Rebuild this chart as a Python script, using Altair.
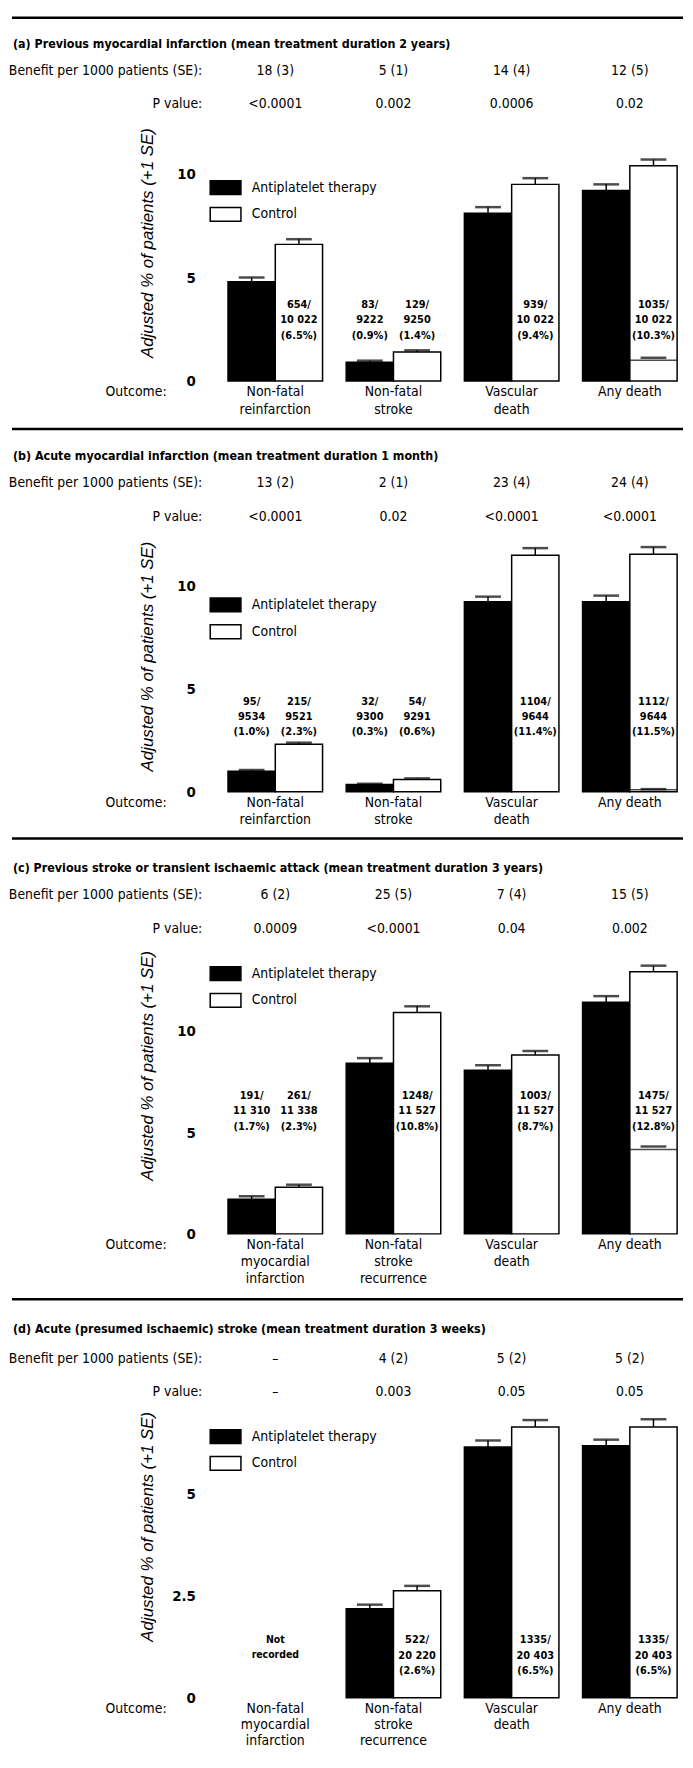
import altair as alt
import pandas as pd

FONT = "Liberation Sans Narrow, DejaVu Sans Condensed, Arial Narrow, sans-serif"
IFONT = "Liberation Sans, Arial, sans-serif"
SERIES = ["Antiplatelet therapy", "Control"]

# ---------------- data ----------------
titles = [
    "(a) Previous myocardial infarction (mean treatment duration 2 years)",
    "(b) Acute myocardial infarction (mean treatment duration 1 month)",
    "(c) Previous stroke or transient ischaemic attack (mean treatment duration 3 years)",
    "(d) Acute (presumed ischaemic) stroke (mean treatment duration 3 weeks)",
]
outcomes_mi = ["Non-fatal\nreinfarction", "Non-fatal\nstroke", "Vascular\ndeath", "Any death"]
outcomes_st = ["Non-fatal\nmyocardial\ninfarction", "Non-fatal\nstroke\nrecurrence", "Vascular\ndeath", "Any death"]

benefit_a = ["18 (3)", "5 (1)", "14 (4)", "12 (5)"]
pvalue_a = ["<0.0001", "0.002", "0.0006", "0.02"]
anti_a = [4.8, 0.9, 8.1, 9.2]
anti_se_a = [0.2, 0.08, 0.3, 0.3]
ctrl_a = [6.6, 1.4, 9.5, 10.4]
ctrl_se_a = [0.25, 0.08, 0.3, 0.3]
nonvasc_a = 1.0
nonvasc_se_a = 0.12
counts_a = [
    ("Non-fatal\nreinfarction", "Control", "654/\n10 022\n(6.5%)"),
    ("Non-fatal\nstroke", "Antiplatelet therapy", "83/\n9222\n(0.9%)"),
    ("Non-fatal\nstroke", "Control", "129/\n9250\n(1.4%)"),
    ("Vascular\ndeath", "Control", "939/\n10 022\n(9.4%)"),
    ("Any death", "Control", "1035/\n10 022\n(10.3%)"),
]

benefit_b = ["13 (2)", "2 (1)", "23 (4)", "24 (4)"]
pvalue_b = ["<0.0001", "0.02", "<0.0001", "<0.0001"]
anti_b = [1.0, 0.35, 9.2, 9.2]
anti_se_b = [0.06, 0.04, 0.25, 0.3]
ctrl_b = [2.3, 0.6, 11.45, 11.5]
ctrl_se_b = [0.08, 0.05, 0.35, 0.35]
nonvasc_b = 0.1
nonvasc_se_b = 0.03
counts_b = [
    ("Non-fatal\nreinfarction", "Antiplatelet therapy", "95/\n9534\n(1.0%)"),
    ("Non-fatal\nreinfarction", "Control", "215/\n9521\n(2.3%)"),
    ("Non-fatal\nstroke", "Antiplatelet therapy", "32/\n9300\n(0.3%)"),
    ("Non-fatal\nstroke", "Control", "54/\n9291\n(0.6%)"),
    ("Vascular\ndeath", "Control", "1104/\n9644\n(11.4%)"),
    ("Any death", "Control", "1112/\n9644\n(11.5%)"),
]

benefit_c = ["6 (2)", "25 (5)", "7 (4)", "15 (5)"]
pvalue_c = ["0.0009", "<0.0001", "0.04", "0.002"]
anti_c = [1.7, 8.4, 8.05, 11.4]
anti_se_c = [0.15, 0.25, 0.25, 0.3]
ctrl_c = [2.3, 10.9, 8.8, 12.9]
ctrl_se_c = [0.12, 0.3, 0.2, 0.3]
nonvasc_c = 4.15
nonvasc_se_c = 0.15
counts_c = [
    ("Non-fatal\nmyocardial\ninfarction", "Antiplatelet therapy", "191/\n11 310\n(1.7%)"),
    ("Non-fatal\nmyocardial\ninfarction", "Control", "261/\n11 338\n(2.3%)"),
    ("Non-fatal\nstroke\nrecurrence", "Control", "1248/\n11 527\n(10.8%)"),
    ("Vascular\ndeath", "Control", "1003/\n11 527\n(8.7%)"),
    ("Any death", "Control", "1475/\n11 527\n(12.8%)"),
]

benefit_d = ["\u2013", "4 (2)", "5 (2)", "5 (2)"]
pvalue_d = ["\u2013", "0.003", "0.05", "0.05"]
anti_d = [None, 2.18, 6.14, 6.17]
anti_se_d = [None, 0.1, 0.16, 0.15]
ctrl_d = [None, 2.62, 6.63, 6.63]
ctrl_se_d = [None, 0.12, 0.17, 0.19]
nonvasc_d = None
nonvasc_se_d = None
counts_d = [
    ("Non-fatal\nstroke\nrecurrence", "Control", "522/\n20 220\n(2.6%)"),
    ("Vascular\ndeath", "Control", "1335/\n20 403\n(6.5%)"),
    ("Any death", "Control", "1335/\n20 403\n(6.5%)"),
]
not_recorded_d = [("Non-fatal\nmyocardial\ninfarction", "Not\nrecorded")]

ticks_abc = [0, 5, 10]
ticks_d = [0, 2.5, 5]

W = 465
LEFT = -212


def panel(title, outcomes, benefit, pvalue, anti, anti_se, ctrl, ctrl_se,
          nonvasc, nonvasc_se, counts, ticks, ymax, g, not_recorded=None):
    xs = alt.Scale(domain=outcomes, paddingInner=0.2, paddingOuter=0.05)
    xo = alt.Scale(domain=SERIES, paddingInner=0, paddingOuter=0)
    ys = alt.Scale(domain=[0, ymax], range=[g["zero"], g["top"]], nice=False, zero=True)
    yaxis = alt.Axis(
        values=ticks, format=".1~f", domain=False, ticks=False, tickSize=0, grid=False,
        labelPadding=27, labelFont=FONT, labelFontSize=15, labelFontWeight="bold",
        labelColor="black", labelOverlap=False,
        title="Adjusted % of patients (+1 SE)", titleFont=IFONT, titleFontStyle="italic",
        titleFontWeight="normal", titleFontSize=17, titleColor="black",
        titleX=-75, titleY=229, titleAngle=270, titleAlign="center", titleBaseline="middle")
    X = alt.X("outcome:N", scale=xs, axis=None)
    XO = alt.XOffset("series:N", scale=xo)

    rows = []
    for o, a, ase, c, cse in zip(outcomes, anti, anti_se, ctrl, ctrl_se):
        if a is not None:
            rows.append({"outcome": o, "series": SERIES[0], "value": a, "top": a + ase})
        if c is not None:
            rows.append({"outcome": o, "series": SERIES[1], "value": c, "top": c + cse})
    bars_df = pd.DataFrame(rows)

    one = pd.DataFrame({"k": [0]})
    layers = []
    # bars
    layers.append(alt.Chart(bars_df).mark_bar(stroke="black", strokeWidth=1.5).encode(
        x=X, xOffset=XO,
        y=alt.Y("value:Q", scale=ys, axis=yaxis),
        color=alt.Color("series:N", scale=alt.Scale(domain=SERIES, range=["black", "white"]),
                        legend=alt.Legend(
                            orient="none", legendX=-13, legendY=g["legend"], title=None,
                            symbolType="M-1,-0.45H1V0.45H-1Z", symbolSize=961,
                            symbolStrokeColor="black", symbolStrokeWidth=1.5, symbolOpacity=1,
                            labelFont=FONT, labelFontSize=14, labelColor="black",
                            labelOffset=10, rowPadding=-5, padding=0)),
    ))
    # SE lines and caps
    layers.append(alt.Chart(bars_df).mark_rule(color="black", strokeWidth=1.5).encode(
        x=X, xOffset=XO, y=alt.Y("value:Q", scale=ys, axis=yaxis), y2="top:Q"))
    layers.append(alt.Chart(bars_df).mark_tick(color="black", size=26, thickness=2.5).encode(
        x=X, xOffset=XO, y=alt.Y("top:Q", scale=ys, axis=yaxis)))
    # non-vascular portion of any death (control)
    if nonvasc is not None:
        nv_df = pd.DataFrame({"outcome": ["Any death"], "series": ["Control"],
                              "nv": [nonvasc], "nvtop": [nonvasc + nonvasc_se]})
        layers.append(alt.Chart(nv_df).mark_tick(color="black", size=47, thickness=1.5).encode(
            x=X, xOffset=XO, y=alt.Y("nv:Q", scale=ys, axis=yaxis)))
        layers.append(alt.Chart(nv_df).mark_tick(color="black", size=26, thickness=2.5).encode(
            x=X, xOffset=XO, y=alt.Y("nvtop:Q", scale=ys, axis=yaxis)))
    # horizontal divider rule
    layers.append(alt.Chart(one).mark_rule(color="black", strokeWidth=2.5).encode(
        x=alt.value(LEFT), x2=alt.value(W), y=alt.value(g["rule"])))
    # title
    layers.append(alt.Chart(pd.DataFrame({"t": [title]})).mark_text(
        align="left", baseline="middle", font=FONT, fontSize=12.5, fontWeight="bold", color="black"
    ).encode(x=alt.value(LEFT + 1), y=alt.value(g["r_title"]), text="t:N"))
    # row headers
    layers.append(alt.Chart(pd.DataFrame({"t": ["Benefit per 1000 patients (SE):"]})).mark_text(
        align="right", baseline="middle", font=FONT, fontSize=14, color="black"
    ).encode(x=alt.value(-20), y=alt.value(g["r_ben"]), text="t:N"))
    layers.append(alt.Chart(pd.DataFrame({"t": ["P value:"]})).mark_text(
        align="right", baseline="middle", font=FONT, fontSize=14, color="black"
    ).encode(x=alt.value(-20), y=alt.value(g["r_p"]), text="t:N"))
    # benefit and p values
    layers.append(alt.Chart(pd.DataFrame({"outcome": outcomes, "v": benefit})).mark_text(
        align="center", baseline="middle", font=FONT, fontSize=14, color="black"
    ).encode(x=X, y=alt.value(g["r_ben"]), text="v:N"))
    layers.append(alt.Chart(pd.DataFrame({"outcome": outcomes, "v": pvalue})).mark_text(
        align="center", baseline="middle", font=FONT, fontSize=14, color="black"
    ).encode(x=X, y=alt.value(g["r_p"]), text="v:N"))
    # count labels
    cdf = pd.DataFrame(counts, columns=["outcome", "series", "t"])
    layers.append(alt.Chart(cdf).mark_text(
        align="center", baseline="middle", lineBreak="\n", lineHeight=15.5,
        font=FONT, fontSize=11, fontWeight="bold", color="black"
    ).encode(x=X, xOffset=XO, y=alt.value(g["count"]), text="t:N"))
    if not_recorded:
        ndf = pd.DataFrame(not_recorded, columns=["outcome", "t"])
        layers.append(alt.Chart(ndf).mark_text(
            align="center", baseline="middle", lineBreak="\n", lineHeight=15,
            font=FONT, fontSize=10.5, fontWeight="bold", color="black"
        ).encode(x=X, y=alt.value(g["count"]), text="t:N"))
    # outcome labels
    layers.append(alt.Chart(pd.DataFrame({"outcome": outcomes})).mark_text(
        align="center", baseline="top", lineBreak="\n", lineHeight=g["olh"],
        font=FONT, fontSize=14, color="black"
    ).encode(x=X, y=alt.value(g["zero"] + 4), text="outcome:N"))
    layers.append(alt.Chart(pd.DataFrame({"t": ["Outcome:"]})).mark_text(
        align="right", baseline="top", font=FONT, fontSize=14, color="black"
    ).encode(x=alt.value(-56), y=alt.value(g["zero"] + 4), text="t:N"))

    return alt.layer(*layers).properties(width=W, height=g["h"])


geo_a = dict(h=417, rule=2, r_title=29, r_ben=56, r_p=89, legend=157, zero=368.5, top=118,
             count=292, olh=18)
geo_b = dict(h=413, rule=0, r_title=27, r_ben=55, r_p=89, legend=161, zero=366, top=116,
             count=275, olh=18)
geo_c = dict(h=465, rule=0, r_title=30, r_ben=57, r_p=91, legend=120, zero=399, top=112,
             count=260, olh=17.5)
geo_d = dict(h=445, rule=0, r_title=30, r_ben=60, r_p=94, legend=122, zero=402, top=113.6,
             count=344, olh=16.5)

pa = panel(titles[0], outcomes_mi, benefit_a, pvalue_a, anti_a, anti_se_a, ctrl_a, ctrl_se_a,
           nonvasc_a, nonvasc_se_a, counts_a, ticks_abc, 12, geo_a)
pb = panel(titles[1], outcomes_mi, benefit_b, pvalue_b, anti_b, anti_se_b, ctrl_b, ctrl_se_b,
           nonvasc_b, nonvasc_se_b, counts_b, ticks_abc, 12, geo_b)
pc = panel(titles[2], outcomes_st, benefit_c, pvalue_c, anti_c, anti_se_c, ctrl_c, ctrl_se_c,
           nonvasc_c, nonvasc_se_c, counts_c, ticks_abc, 14, geo_c)
pd_ = panel(titles[3], outcomes_st, benefit_d, pvalue_d, anti_d, anti_se_d, ctrl_d, ctrl_se_d,
            nonvasc_d, nonvasc_se_d, counts_d, ticks_d, 7, geo_d, not_recorded=not_recorded_d)

chart = alt.vconcat(pa, pb, pc, pd_, spacing=0, bounds="flush").resolve_scale(
    x="independent", y="independent", color="independent", xOffset="independent"
).resolve_legend(color="independent").properties(
    padding=0, background="white"
).configure_view(stroke=None)

chart.save("out.html", embed_options={"renderer": "svg", "actions": False})
